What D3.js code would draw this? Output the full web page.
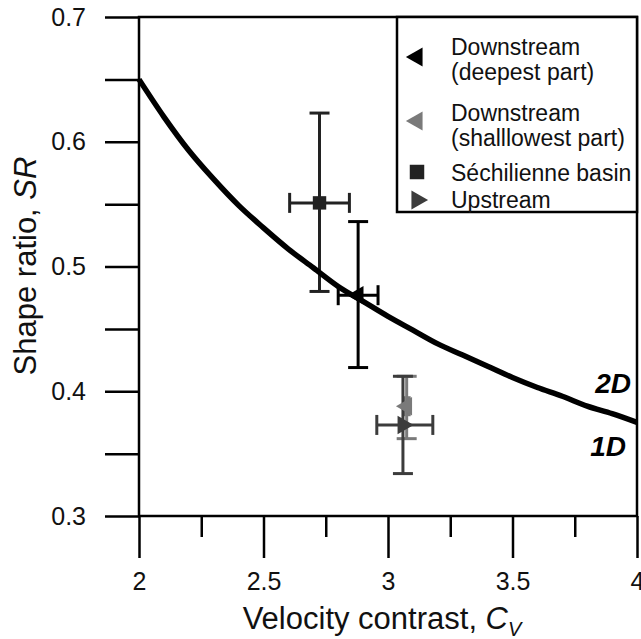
<!DOCTYPE html>
<html>
<head>
<meta charset="utf-8">
<script src="https://cdn.jsdelivr.net/npm/d3@7"></script>
<style>
  body { margin: 0; background: #fff; }
  svg { display: block; font-family: "Liberation Sans", Arial, sans-serif; }
</style>
</head>
<body>
<div id="container"></div>
<script>
// data
var series = ['Downstream (deepest part)', 'Downstream (shalllowest part)', 'Séchilienne basin', 'Upstream'];
var cv   = [2.88, 3.075, 2.725, 3.06];
var cvLo = [2.80, 3.065, 2.605, 2.955];
var cvHi = [2.96, 3.085, 2.845, 3.18];
var sr   = [0.477, 0.388, 0.551, 0.373];
var srLo = [0.419, 0.362, 0.480, 0.334];
var srHi = [0.536, 0.412, 0.623, 0.412];

// limit curve between 1D and 2D resonance
var curveCv = [2.0, 2.1, 2.2, 2.3, 2.4, 2.5, 2.6, 2.7, 2.8, 2.9, 3.0, 3.1, 3.2, 3.3, 3.4, 3.5, 3.6, 3.7, 3.8, 3.9, 4.0];
var curveSr = [0.650, 0.620, 0.593, 0.570, 0.549, 0.531, 0.514, 0.499, 0.484, 0.472, 0.460, 0.449, 0.438, 0.429, 0.420, 0.411, 0.403, 0.396, 0.388, 0.382, 0.375];

var xTicks = [2, 2.5, 3, 3.5, 4];
var xMinor = [2.25, 2.75, 3.25, 3.75];
var yTicks = [0.3, 0.35, 0.4, 0.45, 0.5, 0.55, 0.6, 0.65, 0.7];

var width = 641;
var height = 639;
var mLeft = 139, mRight = 637, mTop = 17, mBottom = 516;
var colors = ['#000000', '#7a7a7a', '#222222', '#3c3c3c'];
var shapes = ['left', 'left', 'square', 'right'];

function markerPath(shape, size){
    if(shape == 'square'){
        return d3.symbol().type(d3.symbolSquare).size(size)();
    }
    return d3.symbol().type(d3.symbolTriangle).size(size)();
}
function markerRotate(shape){
    if(shape == 'left') return -90;
    if(shape == 'right') return 90;
    return 0;
}

var svg = d3.select('#container').append('svg')
    .attr('width', width).attr('height', height);

var x = d3.scaleLinear().domain([2, 4]).range([mLeft, mRight]);
var y = d3.scaleLinear().domain([0.3, 0.7]).range([mBottom, mTop]);

// y axis
var yAxis = svg.append('g')
    .attr('transform', 'translate(' + mLeft + ',0)')
    .call(d3.axisLeft(y).tickValues(yTicks).tickSize(34).tickPadding(19)
        .tickFormat(function(d){ return Math.abs(d * 10 - Math.round(d * 10)) < 1e-6 ? d3.format('.1f')(d) : ''; }));
yAxis.select('.domain').remove();
yAxis.selectAll('line').attr('stroke', '#000').attr('stroke-width', 2.5);
yAxis.selectAll('text').attr('font-size', 25).attr('fill', '#111');

// x axis major + minor
var xAxis = svg.append('g')
    .attr('transform', 'translate(0,' + mBottom + ')')
    .call(d3.axisBottom(x).tickValues(xTicks).tickSize(42).tickPadding(14).tickFormat(d3.format('')));
xAxis.select('.domain').remove();
xAxis.selectAll('line').attr('stroke', '#000').attr('stroke-width', 2.5);
xAxis.selectAll('text').attr('font-size', 25).attr('fill', '#111');

var xMinorAxis = svg.append('g')
    .attr('transform', 'translate(0,' + mBottom + ')')
    .call(d3.axisBottom(x).tickValues(xMinor).tickSize(21).tickFormat(''));
xMinorAxis.select('.domain').remove();
xMinorAxis.selectAll('line').attr('stroke', '#000').attr('stroke-width', 2.5);

// frame
svg.append('rect')
    .attr('x', mLeft).attr('y', mTop)
    .attr('width', mRight - mLeft).attr('height', mBottom - mTop)
    .attr('fill', 'none').attr('stroke', '#000').attr('stroke-width', 2.5);

// axis titles
var xt = svg.append('text')
    .attr('x', (mLeft + mRight) / 2 - 6).attr('y', 629)
    .attr('text-anchor', 'middle').attr('font-size', 31).attr('fill', '#111');
xt.append('tspan').text('Velocity contrast, ');
xt.append('tspan').attr('font-style', 'italic').text('C');
xt.append('tspan').attr('font-style', 'italic').attr('font-size', 20).attr('dy', 7).text('V');

var yt = svg.append('text')
    .attr('transform', 'translate(36,' + 266 + ') rotate(-90)')
    .attr('text-anchor', 'middle').attr('font-size', 31).attr('fill', '#111');
yt.append('tspan').text('Shape ratio, ');
yt.append('tspan').attr('font-style', 'italic').text('SR');

// error bars and markers
var order = [1, 3, 2, 0];
var cap = 10;
order.forEach(function(i){
    var g = svg.append('g').attr('stroke', colors[i]).attr('stroke-width', 3).attr('fill', 'none');
    g.append('line').attr('x1', x(cv[i])).attr('x2', x(cv[i])).attr('y1', y(srLo[i])).attr('y2', y(srHi[i]));
    g.append('line').attr('x1', x(cv[i]) - cap).attr('x2', x(cv[i]) + cap).attr('y1', y(srLo[i])).attr('y2', y(srLo[i]));
    g.append('line').attr('x1', x(cv[i]) - cap).attr('x2', x(cv[i]) + cap).attr('y1', y(srHi[i])).attr('y2', y(srHi[i]));
    g.append('line').attr('x1', x(cvLo[i])).attr('x2', x(cvHi[i])).attr('y1', y(sr[i])).attr('y2', y(sr[i]));
    g.append('line').attr('x1', x(cvLo[i])).attr('x2', x(cvLo[i])).attr('y1', y(sr[i]) - cap).attr('y2', y(sr[i]) + cap);
    g.append('line').attr('x1', x(cvHi[i])).attr('x2', x(cvHi[i])).attr('y1', y(sr[i]) - cap).attr('y2', y(sr[i]) + cap);
});

// theoretical curve
var curve = curveCv.map(function(d, i){ return [d, curveSr[i]]; });
svg.append('path')
    .datum(curve)
    .attr('d', d3.line().x(function(d){ return x(d[0]); }).y(function(d){ return y(d[1]); }).curve(d3.curveMonotoneX))
    .attr('fill', 'none').attr('stroke', '#000').attr('stroke-width', 5.5);

order.forEach(function(i){
    svg.append('path')
        .attr('d', markerPath(shapes[i], shapes[i] == 'square' ? 180 : 150))
        .attr('transform', 'translate(' + x(cv[i]) + ',' + y(sr[i]) + ') rotate(' + markerRotate(shapes[i]) + ')')
        .attr('fill', colors[i]);
});

svg.append('text').attr('x', 631).attr('y', 393).attr('text-anchor', 'end')
    .attr('font-size', 28).attr('font-weight', 'bold').attr('font-style', 'italic').text('2D');
svg.append('text').attr('x', 626).attr('y', 456).attr('text-anchor', 'end')
    .attr('font-size', 28).attr('font-weight', 'bold').attr('font-style', 'italic').text('1D');

// legend
var legend = svg.append('g');
legend.append('rect')
    .attr('x', 397).attr('y', mTop).attr('width', mRight - 397).attr('height', 195)
    .attr('fill', '#fff').attr('stroke', '#000').attr('stroke-width', 2.5);
var legendLines = [['Downstream', '(deepest part)'], ['Downstream', '(shalllowest part)'], ['Séchilienne basin'], ['Upstream']];
var legendTop = [55, 121, 181, 208];
var legendMark = [57, 121, 172, 200];
series.forEach(function(s, i){
    legend.append('path')
        .attr('d', markerPath(shapes[i], shapes[i] == 'square' ? 210 : 160))
        .attr('transform', 'translate(417,' + legendMark[i] + ') rotate(' + markerRotate(shapes[i]) + ')')
        .attr('fill', colors[i]);
    var t = legend.append('text').attr('x', 451).attr('y', legendTop[i]).attr('font-size', 23).attr('fill', '#111');
    legendLines[i].forEach(function(l, j){
        t.append('tspan').attr('x', 451).attr('dy', j == 0 ? 0 : 25).text(l);
    });
});
</script>
</body>
</html>
